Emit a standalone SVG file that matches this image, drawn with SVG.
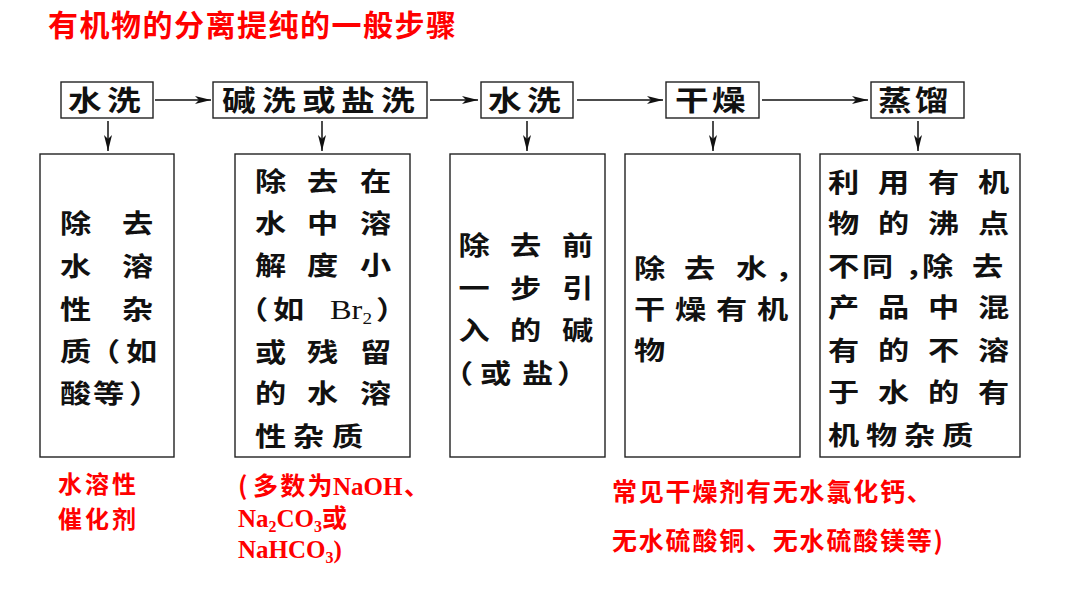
<svg xmlns="http://www.w3.org/2000/svg" width="1080" height="608" viewBox="0 0 1080 608">
<style>
.bg{fill:#ffffff}
.box{fill:#ffffff;stroke:#222222;stroke-width:1.4}
.cn{font-family:'Noto Sans CJK SC','Noto Sans CJK JP',sans-serif;font-weight:700;fill:#111111}
.top{font-size:28px}
.desc{font-size:26px}
.lat{font-family:'Liberation Serif','Times New Roman',serif;font-weight:400}
.red{font-family:'Noto Sans CJK SC','Noto Sans CJK JP',sans-serif;font-weight:700;fill:#ff0000}
.redlat{font-family:'Liberation Serif','Times New Roman',serif;font-weight:700}
.conn{stroke:#111111;stroke-width:1.5;fill:none;marker-end:url(#arr)}
</style>
<defs>
<marker id="arr" viewBox="0 0 16 10" refX="16" refY="5" markerWidth="16" markerHeight="10" markerUnits="userSpaceOnUse" orient="auto">
<path d="M0,1 L16,5 L0,9 L4,5 Z" fill="#111111"/>
</marker>
</defs>
<rect class="bg" x="0" y="0" width="1080" height="608"/>

<g id="title">
<text class="red" x="48" y="36" font-size="30" letter-spacing="1.5">有机物的分离提纯的一般步骤</text>
</g>

<g id="connectors">
<line class="conn" x1="155" y1="100" x2="211" y2="100"/>
<line class="conn" x1="430" y1="100" x2="478" y2="100"/>
<line class="conn" x1="577" y1="100" x2="663" y2="100"/>
<line class="conn" x1="762" y1="100" x2="868" y2="100"/>
<line class="conn" x1="108" y1="121" x2="108" y2="151"/>
<line class="conn" x1="322" y1="121" x2="322" y2="151"/>
<line class="conn" x1="527" y1="121" x2="527" y2="151"/>
<line class="conn" x1="713" y1="121" x2="713" y2="151"/>
<line class="conn" x1="918" y1="121" x2="918" y2="151"/>
</g>

<g id="node-wash1">
<rect class="box" x="61" y="82" width="92" height="36"/>
<text class="cn top" transform="scale(1.2 1)" x="56.67 89.17" y="111">水洗</text>
</g>
<g id="node-basewash">
<rect class="box" x="213" y="82" width="214" height="36"/>
<text class="cn top" transform="scale(1.2 1)" x="185 218.33 251.67 284.17 317.5" y="111">碱洗或盐洗</text>
</g>
<g id="node-wash2">
<rect class="box" x="481" y="82" width="92" height="36"/>
<text class="cn top" transform="scale(1.2 1)" x="406.67 439.17" y="111">水洗</text>
</g>
<g id="node-dry">
<rect class="box" x="666" y="82" width="93" height="36"/>
<text class="cn top" transform="scale(1.2 1)" x="562.5 593.33" y="111">干燥</text>
</g>
<g id="node-distill">
<rect class="box" x="871" y="82" width="93" height="36"/>
<text class="cn top" transform="scale(1.2 1)" x="731.67 762.5" y="111">蒸馏</text>
</g>

<g id="node-desc1">
<rect class="box" x="40" y="154" width="134" height="303"/>
<g class="cn desc" transform="scale(1.2 1)">
<text x="50 101.67" y="233">除去</text>
<text x="50 101.67" y="276">水溶</text>
<text x="50 101.67" y="319">性杂</text>
<text x="50 74.17 105" y="361">质（如</text>
<text x="50 77.5 107.5" y="403">酸等）</text>
</g>
</g>

<g id="node-desc2">
<rect class="box" x="235" y="154" width="175" height="303"/>
<g class="cn desc" transform="scale(1.2 1)">
<text x="212.5 255.83 300" y="191">除去在</text>
<text x="212.5 255.83 300" y="233">水中溶</text>
<text x="212.5 255.83 300" y="275">解度小</text>
<text y="319"><tspan x="197.5">（</tspan><tspan x="227.5">如</tspan><tspan class="lat" x="275" font-size="27">Br</tspan><tspan class="lat" font-size="16" dy="5">2</tspan><tspan x="313.3" dy="-5">）</tspan></text>
<text x="212.5 255.83 300" y="362">或残留</text>
<text x="212.5 255.83 300" y="403">的水溶</text>
<text x="212.5 244.17 276.67" y="446">性杂质</text>
</g>
</g>

<g id="node-desc3">
<rect class="box" x="450" y="154" width="155" height="303"/>
<g class="cn desc" transform="scale(1.2 1)">
<text x="382.08 425 468.33" y="255">除去前</text>
<text x="382.08 425 468.33" y="298">一步引</text>
<text x="382.08 425 468.33" y="340">入的碱</text>
<text x="368.33 400 435 464.17" y="383">（或盐）</text>
</g>
</g>

<g id="node-desc4">
<rect class="box" x="625" y="154" width="175" height="303"/>
<g class="cn desc" transform="scale(1.2 1)">
<text x="528.33 570 613.33 645.83" y="278">除去水，</text>
<text x="528.33 562.5 596.67 630.83" y="319">干燥有机</text>
<text x="528.33" y="360">物</text>
</g>
</g>

<g id="node-desc5">
<rect class="box" x="820" y="154" width="200" height="303"/>
<g class="cn desc" transform="scale(1.2 1)">
<text x="690 731.67 773.33 815" y="192">利用有机</text>
<text x="690 731.67 773.33 815" y="233">物的沸点</text>
<text x="690 718.33 754.17 768.33 810" y="276">不同，除去</text>
<text x="690 731.67 773.33 815" y="317">产品中混</text>
<text x="690 731.67 773.33 815" y="360">有的不溶</text>
<text x="690 731.67 773.33 815" y="402">于水的有</text>
<text x="690 721.67 753.33 785" y="445">机物杂质</text>
</g>
</g>

<g id="notes">
<text class="red" font-size="24" letter-spacing="3"><tspan x="58" y="493">水溶性</tspan><tspan x="58" y="528">催化剂</tspan></text>
<text class="red" font-size="25"><tspan x="238" y="495">(</tspan><tspan x="253" letter-spacing="2.2">多数为</tspan><tspan class="redlat" x="333">NaOH</tspan><tspan x="404">、</tspan><tspan class="redlat" x="238" y="527">Na</tspan><tspan class="redlat" font-size="16" dy="5">2</tspan><tspan class="redlat" dy="-5">CO</tspan><tspan class="redlat" font-size="16" dy="5">3</tspan><tspan dy="-5">或</tspan><tspan class="redlat" x="238" y="558">NaHCO</tspan><tspan class="redlat" font-size="16" dy="5">3</tspan><tspan class="redlat" dy="-5">)</tspan></text>
<text class="red" font-size="25" letter-spacing="1.8"><tspan x="612" y="501">常见干燥剂有无水氯化钙、</tspan><tspan x="612" y="550">无水硫酸铜、无水硫酸镁等)</tspan></text>
</g>
</svg>
